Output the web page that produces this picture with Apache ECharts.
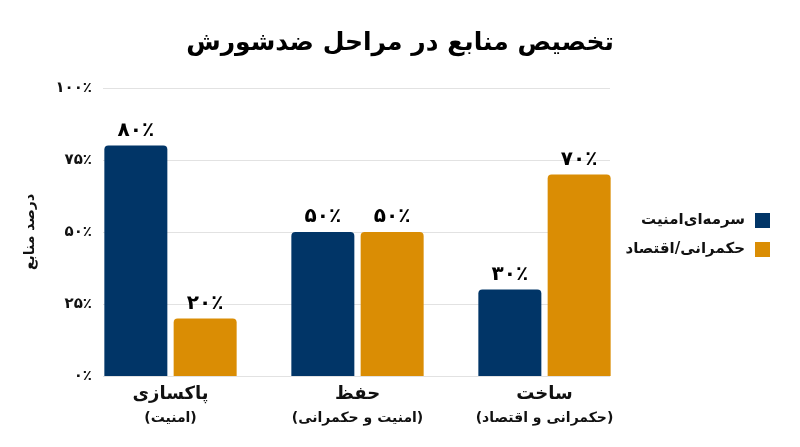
<!DOCTYPE html>
<html>
<head>
<meta charset="utf-8">
<script src="https://cdn.jsdelivr.net/npm/echarts@6/dist/echarts.min.js"></script>
<style>html,body{margin:0;padding:0;background:#fff;}#c{width:800px;height:447px;}</style>
</head>
<body>
<div id="c"></div>
<script>
const titleText = 'تخصیص منابع در مراحل ضدشورش';
const yAxisName = 'درصد منابع';
const categoryMain = ['پاکسازی', 'حفظ', 'ساخت'];
const categorySub = ['(امنیت)', '(امنیت و حکمرانی)', '(حکمرانی و اقتصاد)'];
const seriesNames = ['سرمه‌ای‌امنیت', 'حکمرانی/اقتصاد'];
const securityValues = [80, 50, 30];
const governanceValues = [20, 50, 70];
const yTicks = [0, 25, 50, 75, 100];

const FONT = "'DejaVu Sans', sans-serif";
const faDigits = '۰۱۲۳۴۵۶۷۸۹';
function toFa(n) { return String(n).replace(/[0-9]/g, d => faDigits[+d]); }
function pct(v) { return toFa(v) + '٪'; }

const categories = categoryMain.map((m, i) => m + '\n' + categorySub[i]);

const chart = echarts.init(document.getElementById('c'));
chart.setOption({
  backgroundColor: '#ffffff',
  textStyle: { fontFamily: FONT },
  title: {
    text: titleText,
    left: 'center',
    top: 26,
    textStyle: { fontFamily: FONT, fontSize: 25, fontWeight: 'bold', color: '#000' }
  },
  legend: {
    orient: 'vertical',
    right: 25,
    top: 208,
    align: 'right',
    icon: 'rect',
    itemWidth: 15,
    itemHeight: 15,
    itemGap: 14,
    data: seriesNames,
    textStyle: { fontFamily: FONT, fontSize: 15, fontWeight: 'bold', color: '#111', padding: [0, 5, 0, 0] }
  },
  grid: [
    { left: 103, right: 190, top: 88, bottom: 71 },
    { left: 77, right: 162, top: 88, bottom: 71 }
  ],
  xAxis: [
    { type: 'category', gridIndex: 0, data: categories, show: false },
    {
      type: 'category', gridIndex: 1, data: categories,
      axisTick: { show: false }, axisLine: { show: false },
      axisLabel: {
        margin: 5,
        formatter: function (v) {
          const p = v.split('\n');
          return '{a|' + p[0] + '}\n{b|' + p[1] + '}';
        },
        rich: {
          a: { fontFamily: FONT, fontSize: 18, fontWeight: 'bold', color: '#111', lineHeight: 26 },
          b: { fontFamily: FONT, fontSize: 14, fontWeight: 'bold', color: '#111', lineHeight: 22 }
        }
      }
    }
  ],
  yAxis: [
    {
      type: 'value', gridIndex: 0, min: yTicks[0], max: yTicks[yTicks.length - 1], interval: 25,
      name: yAxisName, nameLocation: 'middle', nameGap: 66, nameRotate: 90,
      nameTextStyle: { fontFamily: FONT, fontSize: 14, fontWeight: 'bold', color: '#111' },
      axisLine: { show: false }, axisTick: { show: false },
      axisLabel: { margin: 11, formatter: v => pct(v), fontFamily: FONT, fontSize: 15, fontWeight: 'bold', color: '#111' },
      splitLine: { lineStyle: { color: '#e2e2e2', width: 1 } }
    },
    { type: 'value', gridIndex: 1, min: 0, max: 100, show: false }
  ],
  series: [
    { type: 'line', xAxisIndex: 0, yAxisIndex: 0, data: [], silent: true },
    {
      name: seriesNames[0], type: 'bar', xAxisIndex: 1, yAxisIndex: 1,
      data: securityValues, barWidth: 63, barGap: '10%',
      itemStyle: { color: '#013567', borderRadius: [4, 4, 0, 0] },
      label: { show: true, position: 'top', distance: 5, formatter: p => pct(p.value),
        fontFamily: FONT, fontSize: 20, fontWeight: 'bold', color: '#000' }
    },
    {
      name: seriesNames[1], type: 'bar', xAxisIndex: 1, yAxisIndex: 1,
      data: governanceValues, barWidth: 63, barGap: '10%',
      itemStyle: { color: '#DA8D04', borderRadius: [4, 4, 0, 0] },
      label: { show: true, position: 'top', distance: 5, formatter: p => pct(p.value),
        fontFamily: FONT, fontSize: 20, fontWeight: 'bold', color: '#000' }
    }
  ]
});
</script>
</body>
</html>
